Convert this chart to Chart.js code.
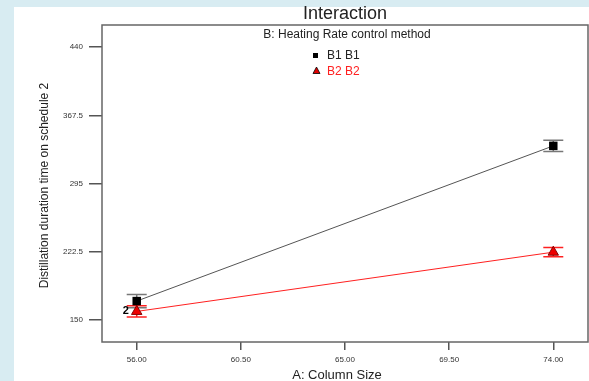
<!DOCTYPE html>
<html>
<head>
<meta charset="utf-8">
<script src="https://cdn.jsdelivr.net/npm/chart.js@4.4.1/dist/chart.umd.min.js"></script>
<style>
    html, body { margin: 0; padding: 0; background: #d8ecf2; }
    #wrap { width: 589px; height: 381px; position: relative; }
</style>
</head>
<body>
<div id="wrap"><canvas id="interactionChart" width="589" height="381"></canvas></div>
<script>
"use strict";

// A: Column Size
const columnSize = [56, 74];
const xTickValues = [56, 60.5, 65, 69.5, 74];
const yTickValues = [150, 222.5, 295, 367.5, 440];

// B1 B1
const b1Mean = [170, 335];
const b1Low = [163, 329];
const b1High = [177, 341];

// B2 B2
const b2Mean = [159, 222];
const b2Low = [153, 217];
const b2High = [165, 227];

const fontFamily = "'Liberation Sans', Arial, sans-serif";

function toPoints(xs, ys) {
    return xs.map(function (x, i) { return { x: x, y: ys[i] }; });
}

// white panel + frame + texts
const decorPlugin = {
    id: "decor",
    beforeDraw: function (chart) {
        const ctx = chart.ctx;
        ctx.save();
        ctx.fillStyle = "#d8ecf2";
        ctx.fillRect(0, 0, chart.width, chart.height);
        ctx.fillStyle = "#ffffff";
        ctx.fillRect(14, 7, chart.width - 14, chart.height - 7);
        ctx.restore();
    },
    beforeDatasetsDraw: function (chart) {
        const ctx = chart.ctx;
        const xs = chart.scales.x;
        const ys = chart.scales.y;
        const bars = [
            { low: b1Low, high: b1High, color: "#777777" },
            { low: b2Low, high: b2High, color: "#ff2020" },
        ];
        ctx.save();
        ctx.lineWidth = 1.5;
        bars.forEach(function (b) {
            ctx.strokeStyle = b.color;
            columnSize.forEach(function (c, i) {
                const px = xs.getPixelForValue(c);
                const y1 = ys.getPixelForValue(b.low[i]);
                const y2 = ys.getPixelForValue(b.high[i]);
                ctx.beginPath();
                ctx.moveTo(px, y1);
                ctx.lineTo(px, y2);
                ctx.moveTo(px - 10, y1);
                ctx.lineTo(px + 10, y1);
                ctx.moveTo(px - 10, y2);
                ctx.lineTo(px + 10, y2);
                ctx.stroke();
            });
        });
        ctx.restore();
    },
    afterDraw: function (chart) {
        const ctx = chart.ctx;
        const area = chart.chartArea;
        const xs = chart.scales.x;
        const ys = chart.scales.y;
        const midX = (area.left + area.right) / 2;
        ctx.save();

        ctx.strokeStyle = "#666666";
        ctx.lineWidth = 1.5;
        ctx.strokeRect(area.left, area.top, area.right - area.left, area.bottom - area.top);

        ctx.fillStyle = "#222222";
        ctx.textAlign = "center";
        ctx.textBaseline = "middle";
        ctx.font = "18px " + fontFamily;
        ctx.fillText("Interaction", midX, 14);

        ctx.font = "12px " + fontFamily;
        ctx.fillText("B: Heating Rate control method", midX + 2, 35);

        ctx.font = "13px " + fontFamily;
        ctx.fillText("A: Column Size", midX - 8, 375);

        ctx.save();
        ctx.translate(45, (area.top + area.bottom) / 2 + 2);
        ctx.rotate(-Math.PI / 2);
        ctx.font = "12px " + fontFamily;
        ctx.fillText("Distillation duration time on schedule 2", 0, 0);
        ctx.restore();

        // legend
        ctx.textAlign = "left";
        ctx.font = "12px " + fontFamily;
        ctx.fillStyle = "#000000";
        ctx.fillRect(313, 53, 5, 5);
        ctx.fillStyle = "#222222";
        ctx.fillText("B1 B1", 327, 56);
        ctx.beginPath();
        ctx.moveTo(316.5, 67);
        ctx.lineTo(320, 73.5);
        ctx.lineTo(313, 73.5);
        ctx.closePath();
        ctx.fillStyle = "#e00000";
        ctx.fill();
        ctx.strokeStyle = "#000000";
        ctx.lineWidth = 0.8;
        ctx.stroke();
        ctx.fillStyle = "#ff2020";
        ctx.fillText("B2 B2", 327, 72);

        // replicate count
        ctx.fillStyle = "#000000";
        ctx.font = "bold 11px " + fontFamily;
        ctx.textAlign = "center";
        ctx.fillText("2", xs.getPixelForValue(columnSize[0]) - 11, ys.getPixelForValue(b2Mean[0]));

        ctx.restore();
    },
};

const ctxEl = document.getElementById("interactionChart").getContext("2d");
const interactionChart = new Chart(ctxEl, {
    type: "line",
    data: {
        datasets: [
            {
                label: "B1 B1",
                data: toPoints(columnSize, b1Mean),
                borderColor: "#555555",
                backgroundColor: "#000000",
                borderWidth: 1,
                pointStyle: "rect",
                pointRadius: 6,
                pointBorderColor: "#000000",
                pointBackgroundColor: "#000000",
                pointBorderWidth: 0,
                tension: 0,
            },
            {
                label: "B2 B2",
                data: toPoints(columnSize, b2Mean),
                borderColor: "#ff2020",
                backgroundColor: "#e00000",
                borderWidth: 1,
                pointStyle: "triangle",
                pointRadius: 6,
                pointBorderColor: "#880000",
                pointBackgroundColor: "#ee0000",
                pointBorderWidth: 1,
                tension: 0,
            },
        ],
    },
    options: {
        responsive: false,
        animation: false,
        events: [],
        layout: {
            autoPadding: false,
            padding: { top: 25, right: 1, left: 0, bottom: 0 },
        },
        scales: {
            x: {
                type: "linear",
                min: 54.5,
                max: 75.5,
                afterFit: function (scale) {
                    scale.height = 39;
                    scale.paddingLeft = 0;
                    scale.paddingRight = 0;
                },
                afterBuildTicks: function (scale) {
                    scale.ticks = xTickValues.map(function (v) { return { value: v }; });
                },
                border: { display: false },
                grid: {
                    drawOnChartArea: false,
                    drawTicks: true,
                    tickLength: 8,
                    color: "#555555",
                    lineWidth: 1.5,
                },
                ticks: {
                    padding: 5,
                    color: "#333333",
                    font: { family: fontFamily, size: 8 },
                    maxRotation: 0,
                    callback: function (value) { return Number(value).toFixed(2); },
                },
            },
            y: {
                type: "linear",
                min: 126.5,
                max: 463.5,
                afterFit: function (scale) {
                    scale.width = 102;
                    scale.paddingTop = 0;
                    scale.paddingBottom = 0;
                },
                afterBuildTicks: function (scale) {
                    scale.ticks = yTickValues.map(function (v) { return { value: v }; });
                },
                border: { display: false },
                grid: {
                    drawOnChartArea: false,
                    drawTicks: true,
                    tickLength: 13,
                    color: "#555555",
                    lineWidth: 1.5,
                },
                ticks: {
                    padding: 6,
                    color: "#333333",
                    font: { family: fontFamily, size: 8 },
                    callback: function (value) { return String(value); },
                },
            },
        },
        plugins: {
            legend: { display: false },
            title: { display: false },
            tooltip: { enabled: false },
        },
    },
    plugins: [decorPlugin],
});
</script>
</body>
</html>
